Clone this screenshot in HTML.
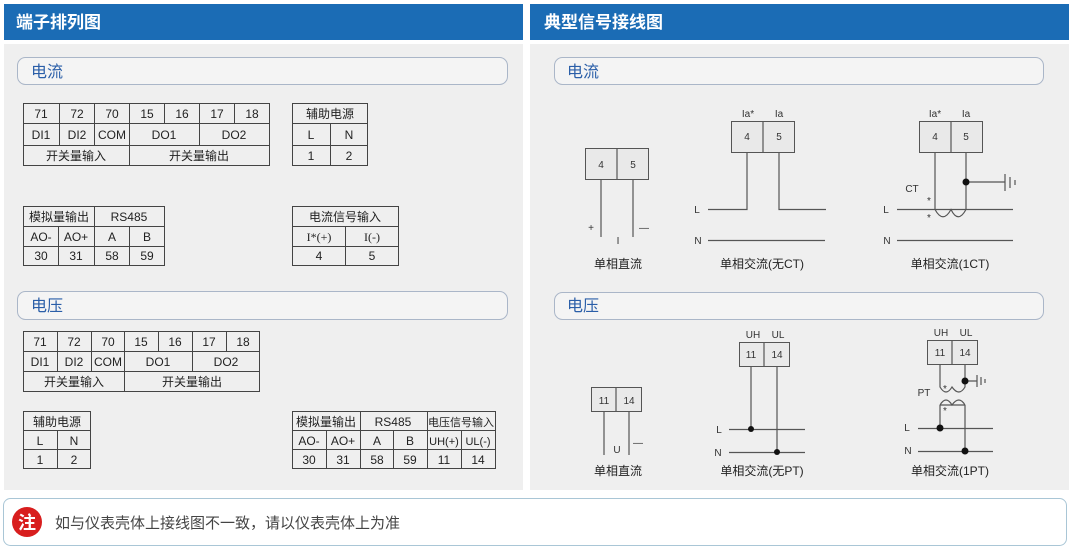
<!DOCTYPE html>
<html><head><meta charset="utf-8"><style>
html,body{margin:0;padding:0;background:#fff;}
svg{display:block;font-family:"Liberation Sans","Noto Sans CJK SC",sans-serif;}
.t{font-size:12px;fill:#222;text-anchor:middle;}
.s{font-size:10px;fill:#333;text-anchor:middle;}
.c{fill:#e9e9e9;stroke:#555;stroke-width:1;}
.w{stroke:#555;stroke-width:1.2;fill:none;}
</style></head><body>
<svg width="1073" height="553" viewBox="0 0 1073 553">
<rect x="0" y="0" width="1073" height="553" fill="#fff"/>
<!-- headers -->
<rect x="4" y="4" width="519" height="36" fill="#1b6cb5"/>
<rect x="530" y="4" width="539" height="36" fill="#1b6cb5"/>
<text x="16" y="28" font-size="17" font-weight="bold" fill="#fff">端子排列图</text>
<text x="544" y="28" font-size="17" font-weight="bold" fill="#fff">典型信号接线图</text>
<rect x="4" y="44" width="519" height="446" fill="#efefef"/>
<rect x="530" y="44" width="539" height="446" fill="#efefef"/>
<!-- pills -->
<g fill="#f4f4f4" stroke="#aab6c8" stroke-width="1">
<rect x="17.5" y="57.5" width="490" height="27" rx="8"/>
<rect x="17.5" y="291.5" width="490" height="28" rx="8"/>
<rect x="554.5" y="57.5" width="489" height="27" rx="8"/>
<rect x="554.5" y="292.5" width="489" height="27" rx="8"/>
</g>
<g font-size="16" fill="#2a5ea8">
<text x="31" y="77">电流</text><text x="31" y="311">电压</text>
<text x="567" y="77">电流</text><text x="567" y="311">电压</text>
</g>

<!-- LEFT tables -->
<g fill="none" stroke="#444" stroke-width="1">
<!-- current table1 -->
<rect x="23.5" y="103.5" width="246" height="62"/>
<path d="M23.5 123.5H269.5M23.5 145.5H269.5M59.5 103.5V145.5M94.5 103.5V145.5M129.5 103.5V165.5M164.5 103.5V123.5M199.5 103.5V145.5M234.5 103.5V123.5"/>
<rect x="292.5" y="103.5" width="75" height="62"/>
<path d="M292.5 123.5H367.5M292.5 145.5H367.5M330.5 123.5V165.5"/>
<rect x="23.5" y="206.5" width="141" height="59"/>
<path d="M23.5 226.5H164.5M23.5 246.5H164.5M58.5 226.5V265.5M94.5 206.5V265.5M129.5 226.5V265.5"/>
<rect x="292.5" y="206.5" width="106" height="59"/>
<path d="M292.5 226.5H398.5M292.5 246.5H398.5M345.5 226.5V265.5"/>
<!-- voltage -->
<rect x="23.5" y="331.5" width="236" height="60"/>
<path d="M23.5 351.5H259.5M23.5 371.5H259.5M57.5 331.5V371.5M91.5 331.5V371.5M124.5 331.5V391.5M158.5 331.5V351.5M192.5 331.5V371.5M226.5 331.5V351.5"/>
<rect x="23.5" y="411.5" width="67" height="57"/>
<path d="M23.5 430.5H90.5M23.5 449.5H90.5M57.5 430.5V468.5"/>
<rect x="292.5" y="411.5" width="203" height="57"/>
<path d="M292.5 430.5H495.5M292.5 449.5H495.5M326.5 430.5V468.5M360.5 411.5V468.5M393.5 430.5V468.5M427.5 411.5V468.5M461.5 430.5V468.5"/>
</g>
<g class="t">
<text x="41" y="118">71</text><text x="77" y="118">72</text><text x="112" y="118">70</text><text x="147" y="118">15</text><text x="182" y="118">16</text><text x="217" y="118">17</text><text x="252" y="118">18</text>
<text x="41" y="139">DI1</text><text x="77" y="139">DI2</text><text x="112" y="139">COM</text><text x="164" y="139">DO1</text><text x="234" y="139">DO2</text>
<text x="76" y="160">开关量输入</text><text x="199" y="160">开关量输出</text>
<text x="330" y="118">辅助电源</text><text x="311" y="139">L</text><text x="349" y="139">N</text><text x="311" y="160">1</text><text x="349" y="160">2</text>
<text x="59" y="221">模拟量输出</text><text x="129" y="221">RS485</text>
<text x="41" y="241">AO-</text><text x="76" y="241">AO+</text><text x="112" y="241">A</text><text x="147" y="241">B</text>
<text x="41" y="260">30</text><text x="76" y="260">31</text><text x="112" y="260">58</text><text x="147" y="260">59</text>
<text x="345" y="221">电流信号输入</text><text x="319" y="241" font-family="Liberation Serif">I*(+)</text><text x="372" y="241" font-family="Liberation Serif">I(-)</text>
<text x="319" y="260">4</text><text x="372" y="260">5</text>
<text x="40" y="346">71</text><text x="74" y="346">72</text><text x="108" y="346">70</text><text x="141" y="346">15</text><text x="175" y="346">16</text><text x="209" y="346">17</text><text x="243" y="346">18</text>
<text x="40" y="366">DI1</text><text x="74" y="366">DI2</text><text x="108" y="366">COM</text><text x="158" y="366">DO1</text><text x="226" y="366">DO2</text>
<text x="74" y="386">开关量输入</text><text x="192" y="386">开关量输出</text>
<text x="57" y="426">辅助电源</text><text x="40" y="445">L</text><text x="74" y="445">N</text><text x="40" y="464">1</text><text x="74" y="464">2</text>
<text x="326" y="426">模拟量输出</text><text x="393" y="426">RS485</text><text x="461" y="426" font-size="11">电压信号输入</text>
<text x="309" y="445">AO-</text><text x="343" y="445">AO+</text><text x="377" y="445">A</text><text x="410" y="445">B</text><text x="444" y="445" font-size="11">UH(+)</text><text x="478" y="445" font-size="11">UL(-)</text>
<text x="309" y="464">30</text><text x="343" y="464">31</text><text x="377" y="464">58</text><text x="410" y="464">59</text><text x="444" y="464">11</text><text x="478" y="464">14</text>
</g>

<!-- RIGHT diagrams -->
<!-- DC current -->
<rect class="c" x="585.5" y="148.5" width="63" height="31"/><path class="w" d="M617 148.5V179.5"/>
<text class="s" x="601" y="168">4</text><text class="s" x="633" y="168">5</text>
<path class="w" d="M601 179.5V237M633 179.5V237"/>
<text class="s" x="591" y="231" font-size="12">+</text><text class="s" x="618" y="244">I</text><text class="s" x="644" y="231">—</text>
<text class="t" x="618" y="268">单相直流</text>
<!-- no CT -->
<text class="s" x="748" y="117">Ia*</text><text class="s" x="779" y="117">Ia</text>
<rect class="c" x="731.5" y="121.5" width="63" height="31"/><path class="w" d="M763 121.5V152.5"/>
<text class="s" x="747" y="140">4</text><text class="s" x="779" y="140">5</text>
<path class="w" d="M747 152.5V209.5H708M779 152.5V209.5H826M708 240.5H825"/>
<text class="s" x="697" y="213">L</text><text class="s" x="698" y="244">N</text>
<text class="t" x="762" y="268">单相交流(无CT)</text>
<!-- 1CT -->
<text class="s" x="935" y="117">Ia*</text><text class="s" x="966" y="117">Ia</text>
<rect class="c" x="919.5" y="121.5" width="63" height="31"/><path class="w" d="M951 121.5V152.5"/>
<text class="s" x="935" y="140">4</text><text class="s" x="966" y="140">5</text>
<path class="w" d="M935 152.5V209.5M966 152.5V209.5M966 182H1005M897 209.5H1013M897 240.5H1013M935 209.5Q943 224 951 209.5Q958 224 966 209.5"/>
<path class="w" d="M1005 174V191M1010 177V188M1015 180V185"/>
<circle cx="966" cy="182" r="3.5" fill="#111"/>
<text class="s" x="912" y="192">CT</text><text class="s" x="929" y="204" font-size="12">*</text><text class="s" x="929" y="221" font-size="12">*</text>
<text class="s" x="886" y="213">L</text><text class="s" x="887" y="244">N</text>
<text class="t" x="950" y="268">单相交流(1CT)</text>
<!-- DC voltage -->
<rect class="c" x="591.5" y="387.5" width="50" height="24"/><path class="w" d="M616 387.5V411.5"/>
<text class="s" x="604" y="404">11</text><text class="s" x="629" y="404">14</text>
<path class="w" d="M604 411.5V455M629 411.5V455"/>
<text class="s" x="617" y="453">U</text><text class="s" x="638" y="446">—</text>
<text class="t" x="618" y="475">单相直流</text>
<!-- no PT -->
<text class="s" x="753" y="338">UH</text><text class="s" x="778" y="338">UL</text>
<rect class="c" x="739.5" y="342.5" width="50" height="24"/><path class="w" d="M764 342.5V366.5"/>
<text class="s" x="751" y="358">11</text><text class="s" x="777" y="358">14</text>
<path class="w" d="M751 366.5V429M777 366.5V452M729 429.5H805M729 452.5H805"/>
<circle cx="751" cy="429" r="3" fill="#111"/><circle cx="777" cy="452" r="3" fill="#111"/>
<text class="s" x="719" y="433">L</text><text class="s" x="718" y="456">N</text>
<text class="t" x="762" y="475">单相交流(无PT)</text>
<!-- 1PT -->
<text class="s" x="941" y="336">UH</text><text class="s" x="966" y="336">UL</text>
<rect class="c" x="927.5" y="340.5" width="50" height="24"/><path class="w" d="M952 340.5V364.5"/>
<text class="s" x="940" y="356">11</text><text class="s" x="965" y="356">14</text>
<path class="w" d="M940 364.5V387Q946 397 952 387Q959 397 965 387V364.5M965 381H977M940 405H965M940 405Q946 395 952 405Q959 395 965 405M940 405V428M965 405V451M918 428.5H993M918 451.5H993"/>
<path class="w" d="M977 375V387M981 377V385M985 379V383"/>
<circle cx="965" cy="381" r="3.5" fill="#111"/><circle cx="940" cy="428" r="3.5" fill="#111"/><circle cx="965" cy="451" r="3.5" fill="#111"/>
<text class="s" x="924" y="396">PT</text><text class="s" x="945" y="392" font-size="9">*</text><text class="s" x="945" y="414" font-size="9">*</text>
<text class="s" x="907" y="431">L</text><text class="s" x="908" y="454">N</text>
<text class="t" x="950" y="475">单相交流(1PT)</text>

<!-- note -->
<rect x="3.5" y="498.5" width="1063" height="47" rx="7" fill="#fff" stroke="#a9c6d6"/>
<circle cx="27" cy="522" r="15" fill="#d81e1e"/>
<text x="27" y="529" font-size="18" font-weight="bold" fill="#fff" text-anchor="middle">注</text>
<text x="55" y="528" font-size="15" fill="#444">如与仪表壳体上接线图不一致，请以仪表壳体上为准</text>
</svg>
</body></html>
